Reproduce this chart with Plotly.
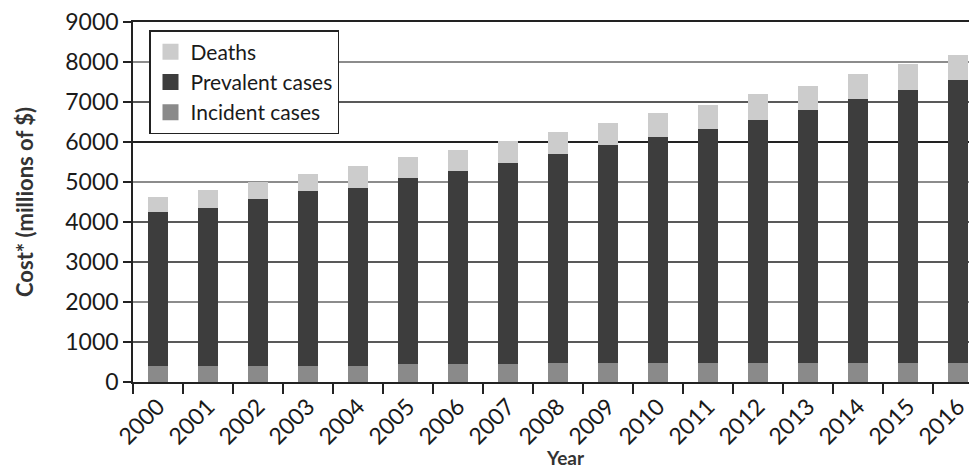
import plotly.graph_objects as go

years = [str(y) for y in range(2000, 2017)]
incident = [390, 390, 390, 390, 390, 450, 450, 450, 480, 480, 480, 480, 480, 480, 480, 480, 480]
prevalent_top = [4250, 4340, 4575, 4765, 4857, 5100, 5282, 5475, 5707, 5920, 6132, 6325, 6557, 6790, 7082, 7307, 7550]
total_top = [4632, 4790, 5000, 5190, 5407, 5625, 5800, 6025, 6257, 6485, 6725, 6932, 7207, 7407, 7707, 7940, 8165]

prevalent = [p - i for p, i in zip(prevalent_top, incident)]
deaths = [t - p for t, p in zip(total_top, prevalent_top)]

y_ticks = list(range(0, 9001, 1000))
grid_gray = [2000, 5000, 8000]
grid_dark = [1000, 3000, 4000, 6000, 7000]

series = [
    ("Incident cases", incident, "#8a8a8a"),
    ("Prevalent cases", prevalent, "#3d3d3d"),
    ("Deaths", deaths, "#cccccc"),
]

FONT = "Lato"
fig = go.Figure()
for name, vals, col in series:
    fig.add_trace(go.Bar(x=years, y=vals, name=name, showlegend=False,
                         marker=dict(color=col, line=dict(width=0))))
# legend entries with larger square swatches
for name, vals, col in series:
    fig.add_trace(go.Scatter(x=[None], y=[None], mode="markers", name=name,
                             marker=dict(symbol="square", size=20, color=col)))

OFF = 8  # page body margin
W, H = 977 - OFF, 470 - OFF
L, T, R = 133 - OFF, 22 - OFF, 0
ph = 360
B = H - T - ph
pw = W - L - R

def px_y(ypage):
    return (ph - (ypage - OFF - T)) / ph

def px_x(xpage):
    return (xpage - OFF - L) / pw

shapes = []
for g in grid_gray:
    shapes.append(dict(type="line", xref="paper", yref="y", x0=0, x1=1, y0=g, y1=g,
                       line=dict(color="#8c8c8c", width=2), layer="below"))
for g in grid_dark:
    shapes.append(dict(type="line", xref="paper", yref="y", x0=0, x1=1, y0=g, y1=g,
                       line=dict(color="#222", width=2 if g == 6000 else 1.5), layer="below"))

fig.update_layout(
    width=W, height=H,
    margin=dict(l=L, r=R, t=T, b=B, autoexpand=False),
    barmode="stack",
    bargap=0.6,
    plot_bgcolor="white",
    paper_bgcolor="white",
    font=dict(family=FONT, color="#1a1a1a"),
    showlegend=True,
    shapes=shapes,
    legend=dict(
        x=px_x(149), y=px_y(30), xanchor="left", yanchor="top",
        traceorder="reversed",
        bordercolor="#222", borderwidth=1.5, bgcolor="white",
        font=dict(family=FONT, size=21, color="#1a1a1a"),
        itemsizing="trace", tracegroupgap=0, itemwidth=30,
    ),
    xaxis=dict(
        type="category",
        range=[-0.5, -0.5 + pw / 50.0],
        tickangle=-45,
        tickfont=dict(family=FONT, size=23, color="#1a1a1a"),
        ticks="outside", ticklen=10, tickwidth=1.5, tickcolor="#222",
        tickson="boundaries",
        showline=True, linecolor="#222", linewidth=2, mirror=True,
        showgrid=False, automargin=False,
    ),
    yaxis=dict(
        range=[0, 9000],
        tickvals=y_ticks,
        tickfont=dict(family=FONT, size=23, color="#1a1a1a"),
        ticklabeloverflow="allow",
        ticks="outside", ticklen=8, tickwidth=1.5, tickcolor="#222",
        showline=True, linecolor="#222", linewidth=1.5,
        showgrid=False,
        zeroline=False, automargin=False,
    ),
    annotations=[
        dict(text="<b>Cost* (millions of $)</b>", xref="paper", yref="paper",
             x=px_x(24), y=0.5, textangle=-90, showarrow=False,
             font=dict(family=FONT, size=22, color="#333"), xanchor="center", yanchor="middle"),
        dict(text="<b>Year</b>", xref="paper", yref="paper",
             x=px_x(565), y=px_y(457), showarrow=False,
             font=dict(family=FONT, size=19, color="#333"), xanchor="center", yanchor="middle"),
    ],
)

fig.write_html("out.html")
